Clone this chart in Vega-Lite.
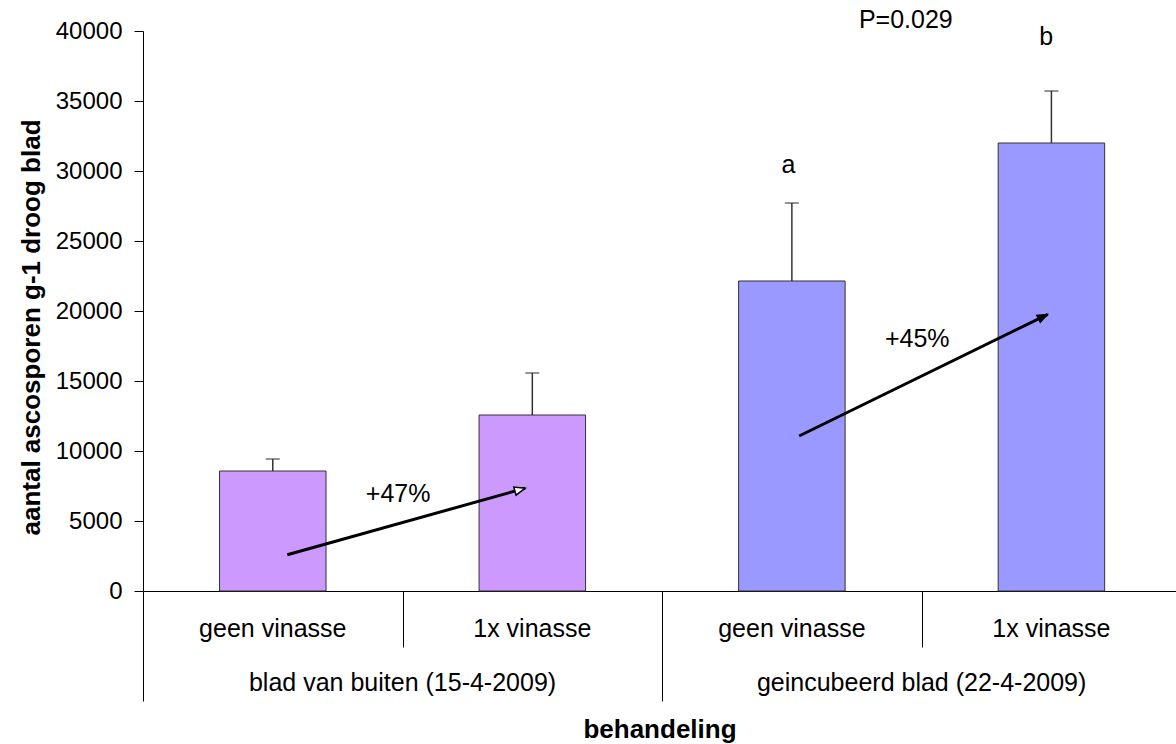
{
  "$schema": "https://vega.github.io/schema/vega-lite/v6.json",
  "width": 1033,
  "height": 560,
  "autosize": "none",
  "padding": {"left": 143, "top": 31, "right": 0, "bottom": 153},
  "background": "white",
  "config": {
    "view": {"stroke": null},
    "font": "Liberation Sans",
    "axis": {"grid": false},
    "text": {"font": "Liberation Sans", "color": "black"}
  },
  "datasets": {
    "bars": [
      {"groep": "blad van buiten (15-4-2009)", "behandeling": "geen vinasse", "pos": 0.5, "aantal": 8571, "fout": 9429},
      {"groep": "blad van buiten (15-4-2009)", "behandeling": "1x vinasse", "pos": 1.5, "aantal": 12571, "fout": 15571},
      {"groep": "geincubeerd blad (22-4-2009)", "behandeling": "geen vinasse", "pos": 2.5, "aantal": 22143, "fout": 27714},
      {"groep": "geincubeerd blad (22-4-2009)", "behandeling": "1x vinasse", "pos": 3.5, "aantal": 32000, "fout": 35714}
    ],
    "groups": [
      {"groep": "blad van buiten (15-4-2009)", "pos": 1},
      {"groep": "geincubeerd blad (22-4-2009)", "pos": 3}
    ],
    "arrows": [
      {"label": "+47%", "x1": 0.556, "y1": 2593, "x2": 1.472, "y2": 7336, "lx": 0.983, "ly": 6929},
      {"label": "+45%", "x1": 2.528, "y1": 11071, "x2": 3.486, "y2": 19764, "lx": 2.983, "ly": 18000}
    ],
    "notes": [
      {"text": "a", "pos": 2.487, "y": 30429},
      {"text": "b", "pos": 3.48, "y": 39593},
      {"text": "P=0.029", "pos": 2.939, "y": 40786}
    ]
  },
  "layer": [
    {
      "data": {"name": "bars"},
      "mark": {"type": "bar", "width": 106.5, "stroke": "#333333", "strokeWidth": 1},
      "encoding": {
        "x": {
          "field": "pos", "type": "quantitative",
          "scale": {"domain": [0, 3.98], "nice": false, "zero": false, "padding": 0},
          "axis": {
            "values": [0, 1, 2, 3],
            "tickSize": {"condition": {"test": "datum.value % 2 === 0", "value": 110}, "value": 56},
            "tickColor": "black", "tickWidth": 1,
            "domainColor": "black", "domainWidth": 1,
            "labels": false,
            "title": "behandeling",
            "titleFontSize": 26, "titleFontWeight": "bold", "titleColor": "black",
            "titlePadding": 15
          }
        },
        "y": {
          "field": "aantal", "type": "quantitative",
          "scale": {"domain": [0, 40000], "nice": false, "padding": 0},
          "axis": {
            "values": [0, 5000, 10000, 15000, 20000, 25000, 30000, 35000, 40000],
            "format": "d",
            "tickSize": 9, "tickColor": "black", "domainColor": "black",
            "labelFontSize": 24, "labelColor": "black", "labelPadding": 12,
            "title": "aantal ascosporen g-1 droog blad",
            "titleFontSize": 26, "titleFontWeight": "bold", "titleColor": "black",
            "titlePadding": 11, "titleY": 296
          }
        },
        "color": {
          "field": "groep", "type": "nominal",
          "scale": {"domain": ["blad van buiten (15-4-2009)", "geincubeerd blad (22-4-2009)"], "range": ["#CC99FF", "#9999FF"]},
          "legend": null
        }
      }
    },
    {
      "data": {"name": "bars"},
      "mark": {"type": "rule", "color": "#333333", "strokeWidth": 1.5},
      "encoding": {
        "x": {"field": "pos", "type": "quantitative"},
        "y": {"field": "aantal", "type": "quantitative"},
        "y2": {"field": "fout"}
      }
    },
    {
      "data": {"name": "bars"},
      "mark": {"type": "tick", "orient": "horizontal", "size": 14, "thickness": 1.5, "color": "#333333"},
      "encoding": {
        "x": {"field": "pos", "type": "quantitative"},
        "y": {"field": "fout", "type": "quantitative"}
      }
    },
    {
      "data": {"name": "bars"},
      "mark": {"type": "text", "fontSize": 25, "baseline": "middle", "align": "center"},
      "encoding": {
        "x": {"field": "pos", "type": "quantitative"},
        "y": {"datum": -2714},
        "text": {"field": "behandeling"}
      }
    },
    {
      "data": {"name": "groups"},
      "mark": {"type": "text", "fontSize": 25, "baseline": "middle", "align": "center"},
      "encoding": {
        "x": {"field": "pos", "type": "quantitative"},
        "y": {"datum": -6571},
        "text": {"field": "groep"}
      }
    },
    {
      "data": {"name": "arrows"},
      "mark": {"type": "rule", "color": "black", "strokeWidth": 3},
      "encoding": {
        "x": {"field": "x1", "type": "quantitative"},
        "y": {"field": "y1", "type": "quantitative"},
        "x2": {"field": "x2"},
        "y2": {"field": "y2"}
      }
    },
    {
      "data": {"name": "arrows"},
      "transform": [{"filter": "datum.label === '+47%'"}],
      "mark": {"type": "point", "shape": "M0,0L-2,-0.8L-2,0.8Z", "size": 110, "angle": -15.6, "filled": true, "fill": "white", "stroke": "black", "strokeWidth": 1.5, "opacity": 1},
      "encoding": {
        "x": {"field": "x2", "type": "quantitative"},
        "y": {"field": "y2", "type": "quantitative"}
      }
    },
    {
      "data": {"name": "arrows"},
      "transform": [{"filter": "datum.label === '+45%'"}],
      "mark": {"type": "point", "shape": "M0,0L-2,-0.8L-2,0.8Z", "size": 110, "angle": -26.1, "filled": true, "fill": "black", "stroke": "black", "strokeWidth": 1, "opacity": 1},
      "encoding": {
        "x": {"field": "x2", "type": "quantitative"},
        "y": {"field": "y2", "type": "quantitative"}
      }
    },
    {
      "data": {"name": "arrows"},
      "mark": {"type": "text", "fontSize": 25, "baseline": "middle", "align": "center"},
      "encoding": {
        "x": {"field": "lx", "type": "quantitative"},
        "y": {"field": "ly", "type": "quantitative"},
        "text": {"field": "label"}
      }
    },
    {
      "data": {"name": "notes"},
      "mark": {"type": "text", "fontSize": 25, "baseline": "middle", "align": "center"},
      "encoding": {
        "x": {"field": "pos", "type": "quantitative"},
        "y": {"field": "y", "type": "quantitative"},
        "text": {"field": "text"}
      }
    }
  ]
}
